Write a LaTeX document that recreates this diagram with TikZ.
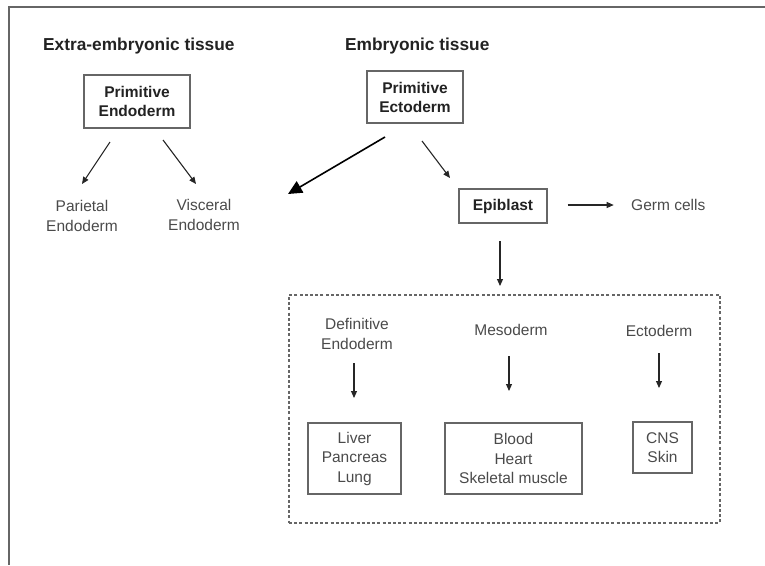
\documentclass[tikz,border=0pt]{standalone}
\usepackage{fontspec}
\setmainfont{Liberation Sans}
\usetikzlibrary{arrows.meta}
\definecolor{txt}{HTML}{4A4A4A}
\definecolor{btxt}{HTML}{222222}
\definecolor{frame}{HTML}{666666}
\tikzset{
  boldbox/.style={draw=frame, line width=1.4pt, align=center, text=btxt,
    font=\fontsize{15.5}{19}\selectfont\bfseries, inner sep=0pt},
  plainbox/.style={draw=frame, line width=1.3pt, align=center, text=txt,
    font=\fontsize{15.5}{19.5}\selectfont, inner sep=0pt},
  plain/.style={align=center, text=txt, font=\fontsize{15.5}{20}\selectfont, inner sep=0pt},
  header/.style={text=btxt, font=\fontsize{17.3}{20}\selectfont\bfseries, inner sep=0pt},
  arr/.style={draw=black!85, line width=1.1pt, -{Triangle[length=7pt,width=6pt]}},
  bigarr/.style={draw=black, line width=1.6pt, -{Triangle[length=14pt,width=13pt]}}
}
\begin{document}
\begin{tikzpicture}[x=1pt,y=-1pt]
\useasboundingbox (0,0) rectangle (765,565);
\draw[frame, line width=1.5pt] (765,7) -- (9,7) -- (9,565);
% headers
\node[header, anchor=west] (hExtra) at (43,46) {Extra-embryonic tissue};
\node[header, anchor=west] (hEmb) at (345,46) {Embryonic tissue};
% boxes
\node[boldbox, minimum width=106pt, minimum height=53pt] (pEndo) at (137,101.5) {Primitive\\Endoderm};
\node[boldbox, minimum width=96pt, minimum height=52pt] (pEcto) at (415,97) {Primitive\\Ectoderm};
\node[plain] (parietal) at (82,215.5) {Parietal\\Endoderm};
\node[plain] (visceral) at (204,214.5) {Visceral\\Endoderm};
\coordinate (bigEnd) at (288,194);
\node[boldbox, minimum width=88pt, minimum height=34pt] (epi) at (503,206) {Epiblast};
\node[plain, anchor=west] (germ) at (631,205) {Germ cells};
% dashed region
\node[draw=frame, line width=1.3pt, dash pattern=on 3pt off 2.2pt, minimum width=431pt, minimum height=228pt, inner sep=0pt] (region) at (504.5,409) {};
\node[plain] (defendo) at (357,333.5) {Definitive\\Endoderm};
\node[plain] (meso) at (511,330) {Mesoderm};
\node[plain] (ecto) at (659,331) {Ectoderm};
\node[plainbox, minimum width=93pt, minimum height=71pt] (liver) at (354.5,458.5) {Liver\\Pancreas\\Lung};
\node[plainbox, minimum width=137pt, minimum height=71pt] (blood) at (513.5,458.5) {Blood\\Heart\\Skeletal muscle};
\node[plainbox, minimum width=59pt, minimum height=51pt] (cns) at (662.5,447.5) {CNS\\Skin};
% arrows
\draw[arr] (110,142) -- (82,184);
\draw[arr] (163,140) -- (196,184);
\draw[bigarr] (385,137) -- (bigEnd);
\draw[arr] (422,141) -- (450,178);
\draw[arr] (epi.east) ++(20,-1) -- ++(46,0);
\draw[arr] (500,241) -- (500,286);
\draw[arr] (354,363) -- (354,398);
\draw[arr] (509,356) -- (509,391);
\draw[arr] (659,353) -- (659,388);
\end{tikzpicture}
\end{document}
